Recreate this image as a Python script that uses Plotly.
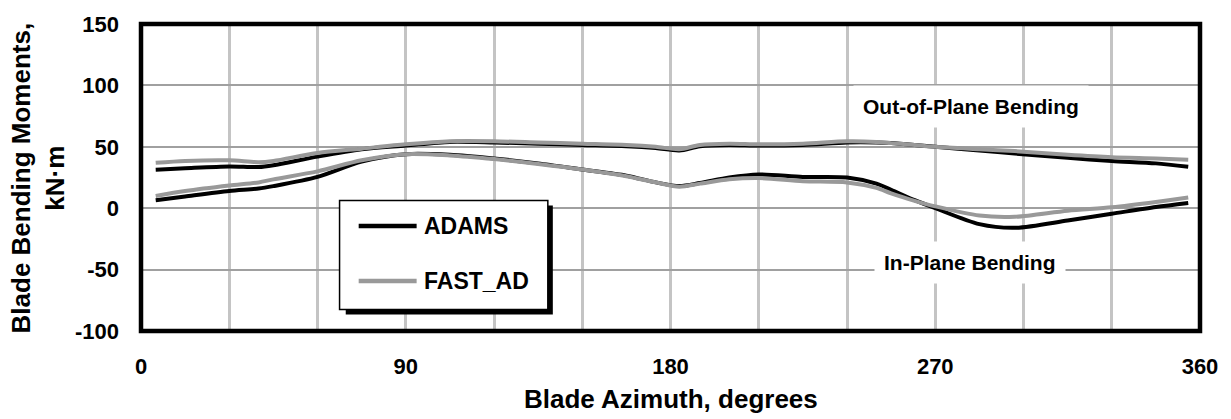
import plotly.graph_objects as go

# ---------------- data ----------------
azimuth = [5, 15, 30, 40, 45, 60, 75, 90, 105, 120, 135, 150, 165, 175, 183, 190,
           200, 210, 225, 240, 250, 255, 263, 270, 285, 297, 315, 330, 345, 356]

adams_out = [31.3, 32.5, 34.0, 33.5, 35.0, 42.0, 48.0, 51.0, 54.0, 53.5, 52.5, 51.5,
             50.5, 49.0, 47.0, 50.5, 51.5, 51.0, 51.5, 53.5, 53.5, 53.0, 51.5, 50.0,
             47.0, 44.5, 41.0, 38.5, 36.5, 33.8]
fast_out = [37.0, 38.5, 39.0, 37.5, 38.5, 45.0, 48.5, 52.0, 54.5, 54.5, 53.5, 52.5,
            51.5, 50.0, 48.0, 51.5, 52.5, 52.0, 52.5, 54.5, 54.0, 53.0, 51.5, 50.0,
            48.0, 46.5, 43.5, 41.5, 40.5, 39.5]

adams_in = [6.4, 9.5, 14.0, 16.0, 18.0, 25.5, 38.0, 44.0, 43.5, 40.5, 36.5, 31.5,
            26.5, 21.0, 18.0, 20.5, 25.0, 27.5, 25.5, 25.0, 20.0, 15.0, 6.5, 0.0,
            -13.0, -16.0, -10.0, -4.5, 1.0, 4.3]
fast_in = [10.0, 14.0, 18.5, 21.0, 23.5, 30.0, 39.0, 44.0, 43.0, 40.0, 36.0, 31.5,
           26.0, 21.0, 17.5, 20.0, 23.5, 24.5, 22.0, 21.0, 16.5, 12.0, 6.0, 1.5,
           -6.0, -7.0, -2.0, 0.7, 5.0, 8.7]

series_names = ["ADAMS", "FAST_AD"]
series_colors = ["#000000", "#999999"]

x_tickvals = [0, 30, 60, 90, 120, 150, 180, 210, 240, 270, 300, 330, 360]
x_ticktext = ["0", "", "", "90", "", "", "180", "", "", "270", "", "", "360"]
y_tickvals = [-100, -50, 0, 50, 100, 150]
y_ticktext = ["-100", "-50", "0", "50", "100", "150"]

x_title = "Blade Azimuth, degrees"
y_title = "Blade Bending Moments,<br>kN·m"
label_out = "Out-of-Plane Bending"
label_in = "In-Plane Bending"

# ---------------- figure ----------------
FONT = "Liberation Sans, Arial, sans-serif"
fig = go.Figure()

for name, color, out_vals, in_vals in [
    (series_names[0], series_colors[0], adams_out, adams_in),
    (series_names[1], series_colors[1], fast_out, fast_in),
]:
    for vals in (out_vals, in_vals):
        fig.add_trace(go.Scatter(
            x=azimuth, y=vals, mode="lines", name=name, showlegend=False,
            line=dict(color=color, width=4, shape="spline", smoothing=0.8),
        ))

fig.update_layout(
    width=1231, height=419,
    margin=dict(l=141, r=31, t=19, b=88),
    paper_bgcolor="white", plot_bgcolor="white",
    font=dict(family=FONT, color="black", size=22, weight="bold"),
    showlegend=False,
)

fig.update_xaxes(
    range=[0, 360], tickvals=x_tickvals, ticktext=x_ticktext,
    showgrid=True, gridcolor="#c4c4c4", gridwidth=2.5,
    zeroline=False, showline=False, ticks="",
    ticklabelstandoff=20,
    tickfont=dict(family=FONT, size=22, weight="bold"),
)
fig.update_yaxes(
    range=[-100, 150], tickvals=y_tickvals, ticktext=y_ticktext,
    showgrid=True, gridcolor="#a0a0a0", gridwidth=2.2,
    zeroline=False, showline=False, ticks="",
    ticklabelstandoff=21,
    tickfont=dict(family=FONT, size=22, weight="bold"),
)

shapes = [
    # plot frame
    dict(type="rect", xref="paper", yref="paper", x0=0, x1=1, y0=0, y1=1,
         line=dict(color="black", width=4.5), fillcolor="rgba(0,0,0,0)", layer="above"),
    # legend shadow
    dict(type="rect", xref="x", yref="y", x0=69.6, x1=140.0, y0=2.3, y1=-86.6,
         line=dict(width=0), fillcolor="black", layer="above"),
    # legend box
    dict(type="rect", xref="x", yref="y", x0=67.5, x1=138.3, y0=6.3, y1=-82.5,
         line=dict(color="black", width=1.5), fillcolor="white", layer="above"),
]
legend_y = [-14.5, -59.3]
for name, color, ly in zip(series_names, series_colors, legend_y):
    shapes.append(dict(type="line", xref="x", yref="y", x0=74.0, x1=93.7, y0=ly, y1=ly,
                       line=dict(color=color, width=4.5), layer="above"))
fig.update_layout(shapes=shapes)

annotations = [
    dict(text=label_out, x=282.3, y=82.8, xref="x", yref="y", showarrow=False,
         bgcolor="white", borderpad=9, font=dict(size=21, family=FONT, weight="bold")),
    dict(text=label_in, x=281.8, y=-44.1, xref="x", yref="y", showarrow=False,
         bgcolor="white", borderpad=9, font=dict(size=21, family=FONT, weight="bold")),
    dict(text=x_title, x=0.5, y=-0.221, xref="paper", yref="paper", showarrow=False,
         xanchor="center", yanchor="middle", font=dict(size=26, family=FONT, weight="bold")),
    dict(text=y_title, x=-0.0973, y=0.5, xref="paper", yref="paper", showarrow=False,
         xanchor="center", yanchor="middle", textangle=-90,
         font=dict(size=26, family=FONT, weight="bold")),
]
for name, ly in zip(series_names, legend_y):
    annotations.append(dict(text=name, x=95.4, y=ly, xref="x", yref="y", showarrow=False,
                            xanchor="left", yanchor="middle",
                            font=dict(size=23, family=FONT, weight="bold")))
fig.update_layout(annotations=annotations)

fig.write_html("out.html")
